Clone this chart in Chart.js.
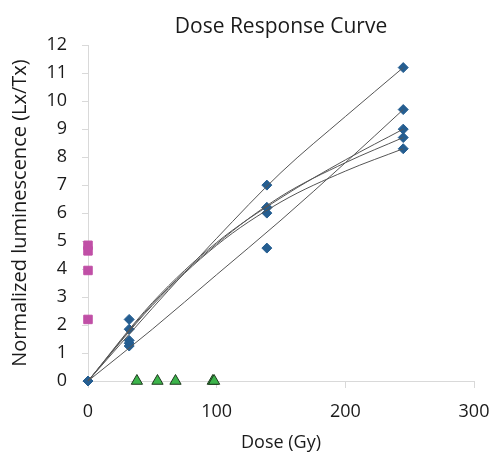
<!DOCTYPE html>
<html>
<head>
<meta charset="utf-8">
<script src="https://cdn.jsdelivr.net/npm/chart.js@4/dist/chart.umd.min.js"></script>
<style>
  html, body { margin: 0; padding: 0; background: #fff; }
  #wrap { width: 493px; height: 454px; }
</style>
</head>
<body>
<div id="wrap"><canvas id="doseChart"></canvas></div>
<script>
// dose levels (Gy) for the irradiated samples
const doses = [0, 32, 139, 245];

// measured Lx/Tx for each sample (diamonds)
const sample1 = [0, 1.45, 7.0, 11.2];
const sample2 = [0, 1.25, 4.75, 9.7];
const sample3 = [0, 2.2, 6.2, 9.0];
const sample4 = [0, 1.85, 6.0, 8.7];
const sample5 = [0, 1.35, 6.2, 8.3];

// fitted trend lines
const trendDoses = [0, 50, 100, 150, 200, 245];
const trend1 = [0, 2.6, 5.1, 7.45, 9.45, 11.2];
const trend2 = [0, 1.85, 3.8, 5.75, 7.8, 9.7];
const trend3 = [0, 2.8, 4.95, 6.55, 7.9, 9.0];
const trend4 = [0, 2.75, 4.9, 6.6, 7.8, 8.7];
const trend5 = [0, 2.7, 4.85, 6.4, 7.5, 8.3];

// natural signal at zero dose (squares)
const naturalY = [4.85, 4.65, 3.95, 2.2];

// zero-response doses (triangles)
const zeroDoses = [38, 54, 68, 97, 98];

const xTicks = [0, 100, 200, 300];
const yMax = 12;

const axisGray = '#d9d9d9';
const textFont = "'Open Sans', 'Liberation Sans', sans-serif";

function toPoints(xs, ys) {
    return xs.map((x, i) => ({ x: x, y: ys[i] }));
}

const trends = [trend1, trend2, trend3, trend4, trend5].map(t => ({
    type: 'line',
    data: toPoints(trendDoses, t),
    borderColor: '#555555',
    borderWidth: 1,
    pointRadius: 0,
    fill: false,
    cubicInterpolationMode: 'monotone',
    clip: false
}));

const samples = [sample1, sample2, sample3, sample4, sample5].map(s => ({
    type: 'scatter',
    data: toPoints(doses, s),
    pointStyle: 'rectRot',
    pointRadius: 5,
    backgroundColor: '#255e91',
    borderColor: '#255e91',
    borderWidth: 1,
    clip: false
}));

const natural = {
    type: 'scatter',
    data: naturalY.map(y => ({ x: 0, y: y })),
    pointStyle: 'rect',
    pointRadius: 6,
    backgroundColor: '#c04fa6',
    borderColor: '#c04fa6',
    borderWidth: 1,
    clip: false
};

const zeroResp = {
    type: 'scatter',
    data: zeroDoses.map(x => ({ x: x, y: 0 })),
    pointStyle: 'triangle',
    pointRadius: 6.5,
    backgroundColor: '#3cb44b',
    borderColor: '#1e3a1e',
    borderWidth: 1,
    clip: false
};

const ctx = document.getElementById('doseChart').getContext('2d');
new Chart(ctx, {
    type: 'scatter',
    data: {
        datasets: [...trends, natural, zeroResp, ...samples]
    },
    options: {
        responsive: true,
        maintainAspectRatio: false,
        animation: false,
        layout: { padding: { top: 0, right: 0, left: 0, bottom: 0 } },
        plugins: {
            legend: { display: false },
            tooltip: { enabled: false },
            title: {
                display: true,
                fullSize: false,
                text: 'Dose Response Curve',
                color: '#1a1a1a',
                font: { family: textFont, size: 21, weight: 'normal' },
                padding: { top: 14, bottom: 6 }
            }
        },
        scales: {
            x: {
                type: 'linear',
                min: 0,
                max: 300,
                afterBuildTicks: scale => { scale.ticks = xTicks.map(v => ({ value: v })); },
                border: { color: axisGray, width: 1 },
                grid: { drawOnChartArea: false, color: axisGray, tickLength: 7 },
                ticks: {
                    color: '#1a1a1a',
                    padding: 13,
                    font: { family: textFont, size: 18 }
                },
                title: {
                    display: true,
                    text: 'Dose (Gy)',
                    color: '#1a1a1a',
                    font: { family: textFont, size: 18 },
                    padding: { top: 0, bottom: 0 }
                },
                afterFit: scale => {
                    scale.height = 73;
                    scale.paddingRight = 19;
                    scale.paddingLeft = 0;
                }
            },
            y: {
                type: 'linear',
                min: 0,
                max: yMax,
                border: { color: axisGray, width: 1 },
                grid: { drawOnChartArea: false, color: axisGray, tickLength: 6 },
                ticks: {
                    stepSize: 1,
                    color: '#1a1a1a',
                    padding: 15,
                    font: { family: textFont, size: 18 }
                },
                title: {
                    display: true,
                    text: 'Normalized luminescence (Lx/Tx)',
                    color: '#1a1a1a',
                    font: { family: textFont, size: 20 },
                    padding: { top: 8, bottom: 4 }
                },
                afterFit: scale => { scale.width = 88; }
            }
        }
    }
});
</script>
</body>
</html>
